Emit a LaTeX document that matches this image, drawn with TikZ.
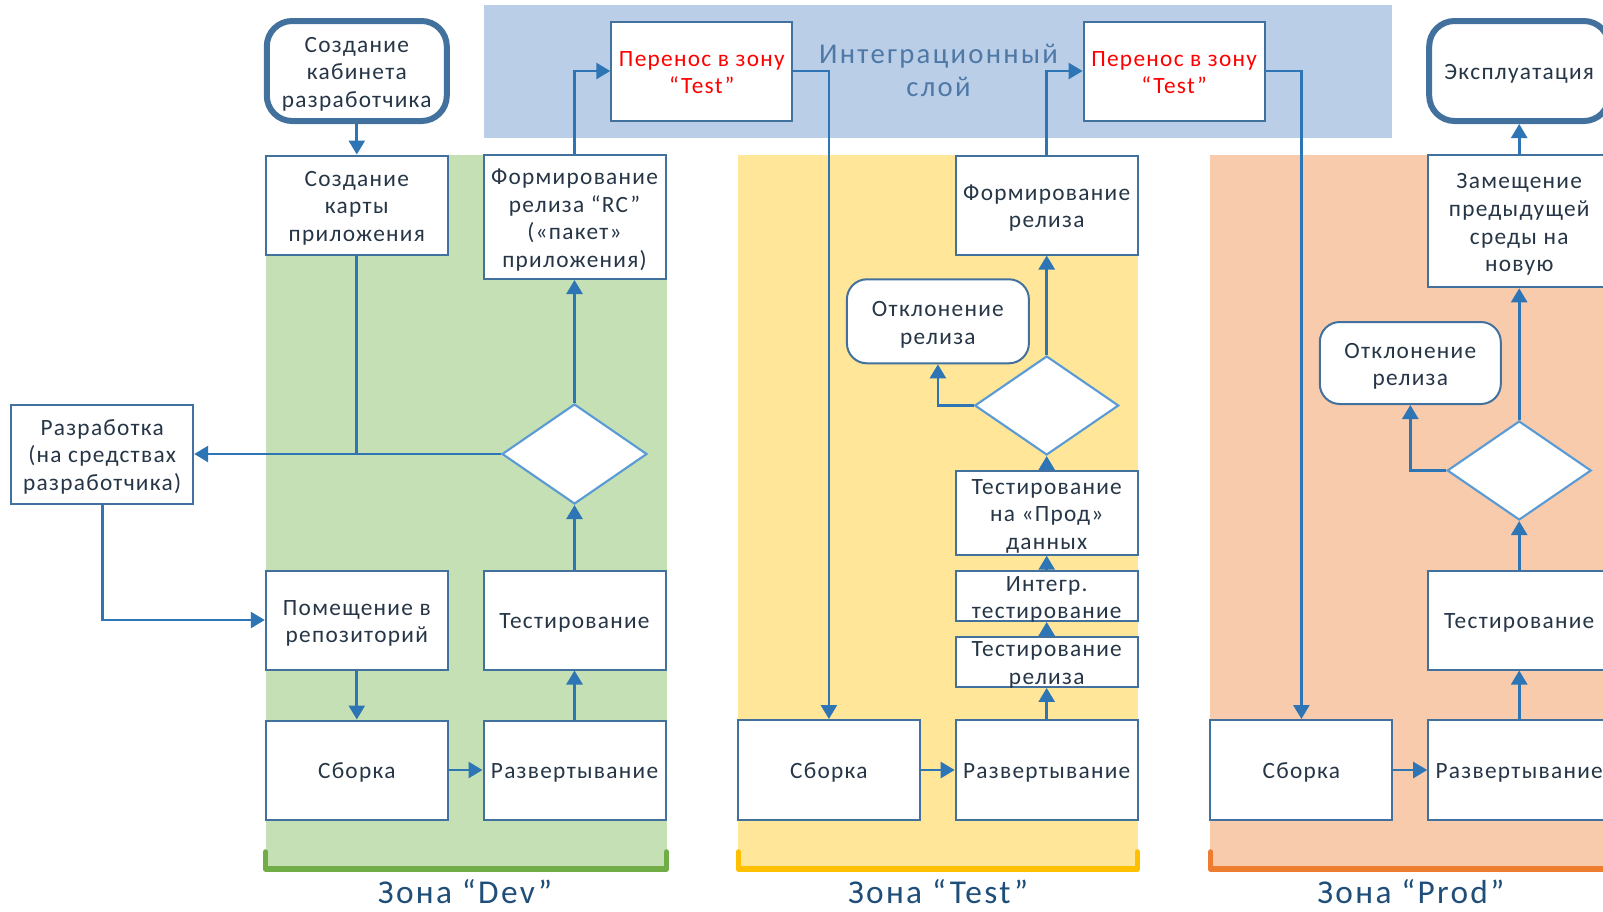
\documentclass[tikz,border=0pt]{standalone}
\usepackage{fontspec}
\setmainfont{Carlito}
\newfontfamily\boxfam{Carlito}[LetterSpace=5.5]
\newfontfamily\intfam{Carlito}[LetterSpace=8]
\newfontfamily\zonefam{Carlito}[LetterSpace=7]
\usetikzlibrary{arrows.meta,shapes.geometric}
\definecolor{bandc}{HTML}{BACEE8}
\definecolor{greenc}{HTML}{C5E0B4}
\definecolor{yellowc}{HTML}{FFE699}
\definecolor{orangec}{HTML}{F8CBAD}
\definecolor{gbrk}{HTML}{70AD47}
\definecolor{ybrk}{HTML}{FFC000}
\definecolor{obrk}{HTML}{ED7D31}
\definecolor{boxc}{HTML}{41719C}
\definecolor{linec}{HTML}{2E75B6}
\definecolor{diac}{HTML}{5B9BD5}
\definecolor{termc}{HTML}{41719C}
\definecolor{txtc}{HTML}{263647}
\definecolor{intc}{HTML}{4E78A5}
\definecolor{zonec}{HTML}{1F4E79}
\newcommand\bxfont{\boxfam\fontsize{17.5pt}{20.7pt}\selectfont}
\newcommand\intfont{\intfam\fontsize{21.5pt}{25pt}\selectfont}
\newcommand\zonefont{\zonefam\fontsize{25pt}{30pt}\selectfont}
\newcommand\bt[1]{\raisebox{-2.6pt}[\height][\depth]{\begin{tabular}{@{}c@{}}#1\end{tabular}}}
\begin{document}
\begin{tikzpicture}[x=0.75pt,y=-0.75pt,
  sz/.style 2 args={minimum width=#1*0.75pt, minimum height=#2*0.75pt},
  box/.style={draw=boxc, line width=1.5pt, fill=white, inner xsep=0pt, inner ysep=-4pt,
    font=\bxfont, text=txtc},
  rbox/.style={box, rounded corners=15pt},
  term/.style={box, draw=termc, line width=4.5pt, rounded corners=19pt},
  redt/.style={text=red},
  dia/.style={diamond, draw=diac, line width=1.6pt, fill=white, inner sep=0pt},
  conn/.style={draw=linec, line width=2pt, -{Triangle[length=10.5pt,width=12pt]}},
  seg/.style={draw=linec, line width=2pt},
  brk/.style={line width=4.2pt, line cap=round, line join=round},
  intl/.style={font=\intfont, text=intc, anchor=base},
  zlab/.style={font=\zonefont, text=zonec, anchor=base}
]
\useasboundingbox (0,0) rectangle (1603,911);
\clip (0,0) rectangle (1603,911);
\fill[white] (0,0) rectangle (1603,911);

% zones
\fill[bandc] (483.5,5) rectangle (1392,138);
\fill[greenc] (265.8,155.4) rectangle (666.5,866);
\fill[yellowc] (737.7,155.4) rectangle (1137.7,866);
\fill[orangec] (1210.4,155.4) rectangle (1640,866);
\draw[brk, gbrk] (265.5,852) -- (265.5,869) -- (666.5,869) -- (666.5,852);
\draw[brk, ybrk] (738.4,852) -- (738.4,869) -- (1137.4,869) -- (1137.4,852);
\draw[brk, obrk] (1210.5,852) -- (1210.5,869) -- (1640,869);

% labels
\node[intl] (int1) at (938.5,63.3) {Интеграционный};
\node[intl] (int2) at (938.5,96.7) {слой};
\node[zlab] (zdev) at (465,903) {Зона “Dev”};
\node[zlab] (ztest) at (938,903) {Зона “Test”};
\node[zlab] (zprod) at (1410.8,903) {Зона “Prod”};

% Dev zone
\node[term, sz={180}{100}] (kab) at (356.8,71) {\bt{Создание\\кабинета\\разработчика}};
\node[box, sz={182}{99}] (karta) at (356.8,205) {\bt{Создание\\карты\\приложения}};
\node[box, sz={182}{123.6}] (formRC) at (574.5,217.2) {\bt{Формирование\\релиза “RC”\\(«пакет»\\приложения)}};
\node[box, redt, sz={181}{99}] (per1) at (701.8,71) {\bt{Перенос в зону\\“Test”}};
\node[box, sz={182}{99}] (razr) at (102.2,454) {\bt{Разработка\\(на средствах\\разработчика)}};
\node[dia, sz={145}{100}] (dd) at (574.5,454) {};
\node[box, sz={182}{99}] (pom) at (356.8,620) {\bt{Помещение в\\репозиторий}};
\node[box, sz={182}{99}] (tdev) at (574.5,620) {\bt{Тестирование}};
\node[box, sz={182}{99}] (sbdev) at (356.8,770) {\bt{Сборка}};
\node[box, sz={182}{99}] (rzdev) at (574.5,770) {\bt{Развертывание}};

% Test zone
\node[box, sz={182}{100}] (sbt) at (828.9,770) {\bt{Сборка}};
\node[box, sz={182}{100}] (rzt) at (1046.7,770) {\bt{Развертывание}};
\node[box, sz={182}{50.3}] (trel) at (1046.7,661.8) {\bt{Тестирование\\релиза}};
\node[box, sz={182}{50}] (integ) at (1046.7,596) {\bt{Интегр.\\тестирование}};
\node[box, sz={182}{84}] (tprod) at (1046.7,512.7) {\bt{Тестирование\\на «Прод»\\данных}};
\node[dia, sz={144}{99}] (dt) at (1046.7,405.5) {};
\node[rbox, sz={182}{84}] (otklt) at (937.9,321.3) {\bt{Отклонение\\релиза}};
\node[box, sz={182}{99}] (formt) at (1046.7,205) {\bt{Формирование\\релиза}};
\node[box, redt, sz={181}{99}] (per2) at (1174.1,71) {\bt{Перенос в зону\\“Test”}};

% Prod zone
\node[box, sz={182}{100}] (sbp) at (1301.4,770) {\bt{Сборка}};
\node[box, sz={182}{100}] (rzp) at (1519.2,770) {\bt{Развертывание}};
\node[box, sz={182}{99}] (tp) at (1519.2,620) {\bt{Тестирование}};
\node[dia, sz={144}{99}] (dp) at (1519.2,470.5) {};
\node[rbox, sz={181}{82}] (otklp) at (1410.3,363) {\bt{Отклонение\\релиза}};
\node[box, sz={182}{132}] (zam) at (1519.2,221.3) {\bt{Замещение\\предыдущей\\среды на\\новую}};
\node[term, sz={180}{100}] (eks) at (1519.2,71) {\bt{Эксплуатация}};

% connectors, Dev
\draw[conn] (kab.south) -- (karta.north);
\draw[seg] (karta.south) -- (karta.south |- dd.west);
\draw[conn] (dd.west) -- (razr.east);
\draw[conn] (razr.south) |- (pom.west);
\draw[conn] (pom.south) -- (sbdev.north);
\draw[conn] (sbdev.east) -- (rzdev.west);
\draw[conn] (rzdev.north) -- (tdev.south);
\draw[conn] (tdev.north) -- (dd.south);
\draw[conn] (dd.north) -- (formRC.south);
\draw[conn] (formRC.north) |- (per1.west);
\draw[conn] (per1.east) -| (sbt.north);
% Test
\draw[conn] (sbt.east) -- (rzt.west);
\draw[conn] (rzt.north) -- (trel.south);
\draw[conn] (trel.north) -- (integ.south);
\draw[conn] (integ.north) -- (tprod.south);
\draw[conn] (tprod.north) -- (dt.south);
\draw[conn] (dt.north) -- (formt.south);
\draw[conn] (dt.west) -| (otklt.south);
\draw[conn] (formt.north) |- (per2.west);
\draw[conn] (per2.east) -| (sbp.north);
% Prod
\draw[conn] (sbp.east) -- (rzp.west);
\draw[conn] (rzp.north) -- (tp.south);
\draw[conn] (tp.north) -- (dp.south);
\draw[conn] (dp.west) -| (otklp.south);
\draw[conn] (dp.north) -- (zam.south);
\draw[conn] (zam.north) -- (eks.south);
\end{tikzpicture}
\end{document}
